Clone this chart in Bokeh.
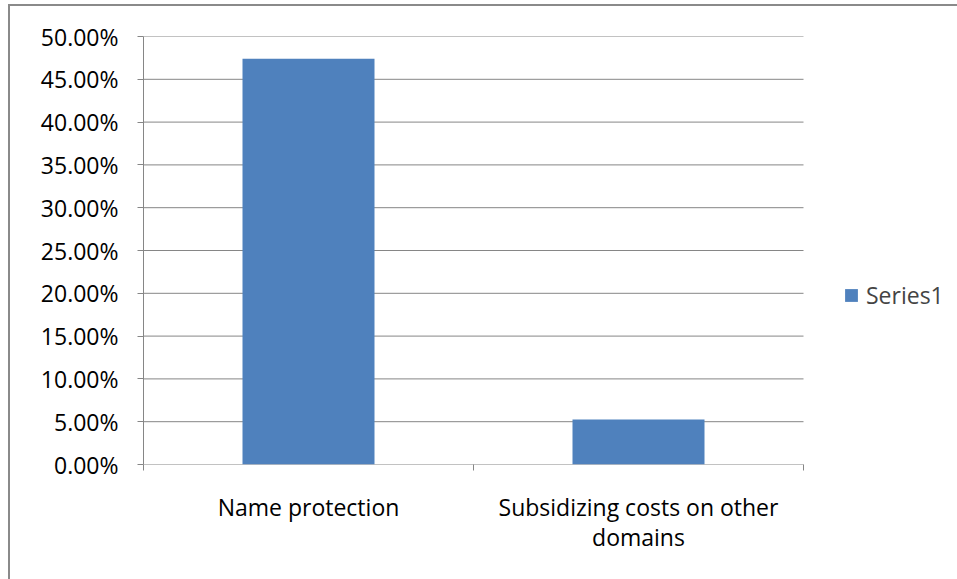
from bokeh.plotting import figure
from bokeh.models import (ColumnDataSource, FixedTicker, NumeralTickFormatter,
                          Legend, LegendItem, Range1d)
from bokeh.embed import file_html
from bokeh.resources import INLINE

categories = ["Name protection", "Subsidizing costs on other\ndomains"]
values = [0.474, 0.0526]
series_name = "Series1"
y_ticks = [0.0, 0.05, 0.10, 0.15, 0.20, 0.25, 0.30, 0.35, 0.40, 0.45, 0.50]

FONT = "Open Sans"
FONT_SIZE = "23px"
BAR = "#4F81BD"
GRID = "#868686"

# the frame also holds the legend column to the right of the plot area
PLOT_W = 660
FRAME_W = 814
n = len(categories)
x_end = n * FRAME_W / PLOT_W

centers = [i + 0.5 for i in range(n)]
src = ColumnDataSource(dict(x=centers, top=values))
grid_src = ColumnDataSource(dict(x0=[0] * len(y_ticks), x1=[n] * len(y_ticks),
                                 y=y_ticks))

p = figure(frame_width=FRAME_W, frame_height=428, output_backend="svg",
           toolbar_location=None,
           x_range=Range1d(0, x_end), y_range=Range1d(0, 0.5),
           min_border_left=133, min_border_right=0,
           min_border_top=30, min_border_bottom=115)
p.margin = (4, 0, 0, 8)
p.styles = {"border-top": "2px solid #8A8A8A", "border-left": "2px solid #8A8A8A"}
p.outline_line_color = None
p.background_fill_color = "white"
p.border_fill_color = "white"

# horizontal gridlines (the 0% line doubles as the category axis line)
p.segment(x0="x0", x1="x1", y0="y", y1="y", source=grid_src,
          line_color=GRID, line_width=1)

r = p.vbar(x="x", top="top", width=0.4, bottom=0, source=src,
           fill_color=BAR, line_color=None)

# y axis: percentage scale
p.yaxis.ticker = FixedTicker(ticks=y_ticks, minor_ticks=[])
p.yaxis.formatter = NumeralTickFormatter(format="0.00%")
p.yaxis.axis_line_color = GRID
p.yaxis.major_tick_line_color = GRID
p.yaxis.major_tick_out = 6
p.yaxis.major_tick_in = 0
p.yaxis.minor_tick_line_color = None
p.yaxis.major_label_standoff = 19
p.yaxis.major_label_text_font = FONT
p.yaxis.major_label_text_font_size = FONT_SIZE
p.yaxis.major_label_text_color = "#000000"

# x axis: labels at category centres, tick marks between categories
p.xaxis.ticker = FixedTicker(ticks=centers, minor_ticks=list(range(n + 1)))
p.xaxis.major_label_overrides = {c: lab for c, lab in zip(centers, categories)}
p.xaxis.axis_line_color = None
p.xaxis.major_tick_line_color = None
p.xaxis.minor_tick_line_color = GRID
p.xaxis.minor_tick_out = 6
p.xaxis.minor_tick_in = 0
p.xaxis.major_tick_out = 6
p.xaxis.major_label_standoff = 20
p.xaxis.major_label_text_font = FONT
p.xaxis.major_label_text_font_size = FONT_SIZE
p.xaxis.major_label_text_line_height = 0.95
p.xaxis.major_label_text_color = "#000000"

p.xgrid.grid_line_color = None
p.ygrid.grid_line_color = None

legend = Legend(items=[LegendItem(label=series_name, renderers=[r])],
                location=(PLOT_W + 40, 153), border_line_color=None,
                background_fill_alpha=0, label_text_font=FONT,
                label_text_font_size=FONT_SIZE, glyph_width=16, glyph_height=16,
                label_standoff=7, padding=0, margin=0)
p.add_layout(legend, "center")

open("out.html", "w").write(file_html(p, INLINE))
